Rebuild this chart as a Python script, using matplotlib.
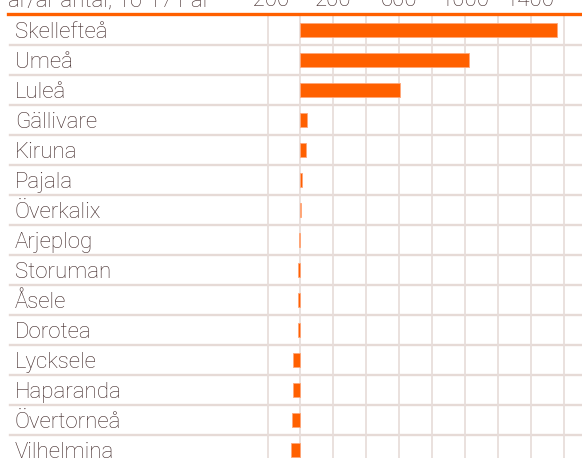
import matplotlib
matplotlib.use("Agg")
import matplotlib.pyplot as plt

kommuner = ["Skellefteå", "Umeå", "Luleå", "Gällivare", "Kiruna", "Pajala",
            "Överkalix", "Arjeplog", "Storuman", "Åsele", "Dorotea",
            "Lycksele", "Haparanda", "Övertorneå", "Vilhelmina"]
forandring = [1560, 1023, 607, 42, 36, 9, 3, -9, -14, -13, -17, -44, -46, -50, -59]
ticks = [-200, 0, 200, 400, 600, 800, 1000, 1200, 1400, 1600]
tick_labels = ["-200", "", "200", "", "600", "", "1000", "", "1400", ""]
rubrik = "år/år antal, 16-17 Fal"

orange = "#ff6000"
textfarg = "#3f2727"
linjefarg = "#e8dedb"

plt.rcParams["font.family"] = ["Roboto", "DejaVu Sans"]

W, H = 582, 458
fig = plt.figure(figsize=(W / 100, H / 100), dpi=100)
top = 13.5
ax = fig.add_axes([0, 0, 1, 1 - top / H])

# px -> data: nollan vid 300.5 px, 0.1645 px per enhet
x0, s = 300.5, 0.1645
ax.set_xlim(-x0 / s, (W - x0) / s)
ax.set_ylim((H - 30) / 30, (top - 30) / 30)

ax.barh(range(len(kommuner)), forandring, height=0.44, color=orange,
        edgecolor="#ffa77a", linewidth=0.6, zorder=3)

ax.set_xticks(ticks)
ax.set_xticklabels(tick_labels, fontsize=16, color=textfarg, fontweight="light")
ax.xaxis.tick_top()
ax.tick_params(axis="x", length=0, pad=2)
ax.set_yticks([])
ax.grid(axis="x", color=linjefarg, lw=1.3, zorder=0)
for sp in ax.spines.values():
    sp.set_visible(False)

for k in range(len(kommuner) - 1):
    ax.axhline(k + 0.5, xmin=10 / W, color="#e6dad6", lw=1.7, zorder=1)

for k, namn in enumerate(kommuner):
    ax.text(15 / W, k + 0.27, namn, transform=ax.get_yaxis_transform(), fontsize=16,
            color=textfarg, va="baseline", ha="left", fontweight="light")

ax.axhline((top - 30) / 30, xmin=8 / W, color=orange, lw=2.4, clip_on=False, zorder=4)

fig.text(8 / W, 1 - 7 / H, rubrik, fontsize=16, color=textfarg,
         va="baseline", ha="left", fontweight="light")

fig.savefig("out.png", dpi=100)
